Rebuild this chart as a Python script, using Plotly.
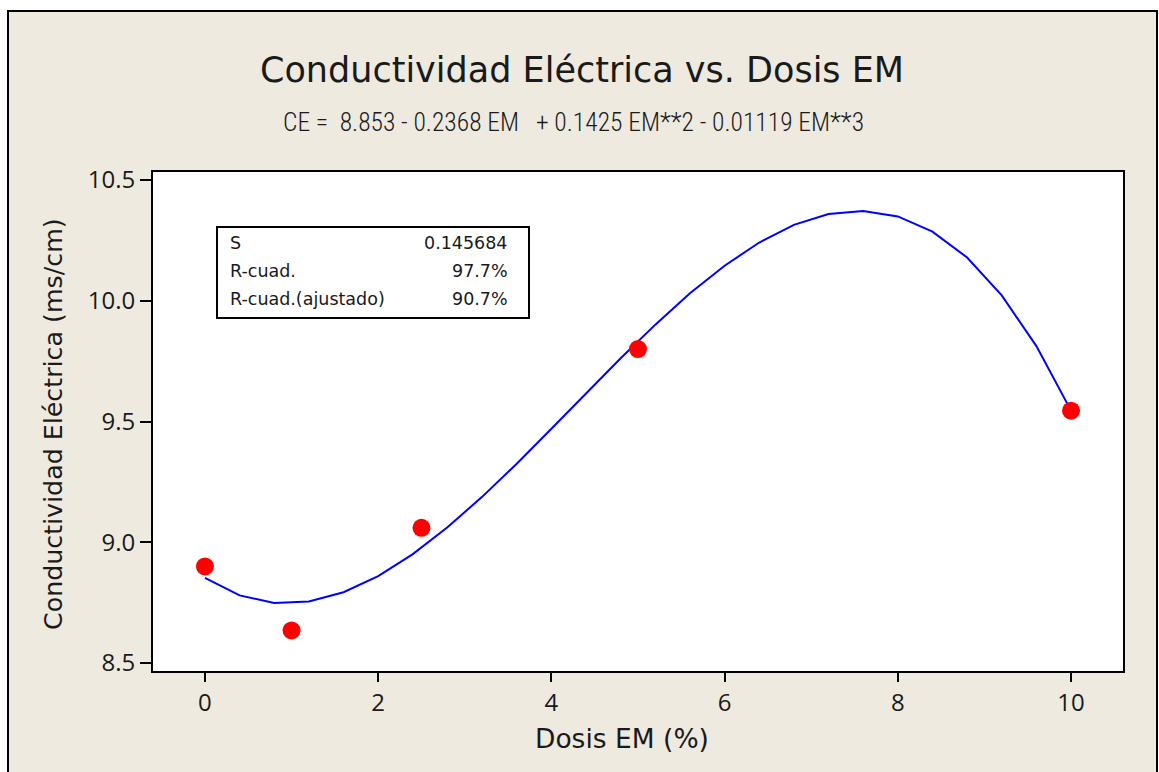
import plotly.graph_objects as go

# Observed data
dosis = [0, 1, 2.5, 5, 10]
ce_obs = [8.90, 8.635, 9.06, 9.80, 9.545]

# Fitted line (vertices every 0.4)
fit_x = [0, 0.4, 0.8, 1.2, 1.6, 2.0, 2.4, 2.8, 3.2, 3.6, 4.0, 4.4, 4.8, 5.2,
         5.6, 6.0, 6.4, 6.8, 7.2, 7.6, 8.0, 8.4, 8.8, 9.2, 9.6, 10.0]
fit_y = [8.853, 8.780, 8.749, 8.755, 8.793, 8.860, 8.951, 9.062, 9.188, 9.325,
         9.470, 9.617, 9.762, 9.901, 10.031, 10.145, 10.241, 10.314, 10.359,
         10.372, 10.349, 10.286, 10.179, 10.022, 9.812, 9.545]

x_ticks = [0, 2, 4, 6, 8, 10]
y_ticks = [8.5, 9.0, 9.5, 10.0, 10.5]
y_ticktext = ["8.5", "9.0", "9.5", "10.0", "10.5"]

stats_labels = ["S", "R-cuad.", "R-cuad.(ajustado)"]
stats_values = ["0.145684", "97.7%", "90.7%"]

title = "Conductividad Eléctrica vs. Dosis EM"
eq_left = "CE =  8.853 - 0.2368 EM"
eq_right = "+ 0.1425 EM**2 - 0.01119 EM**3"
x_title = "Dosis EM (%)"
y_title = "Conductividad Eléctrica (ms/cm)"

W, H = 1159, 772
L, R, T, B = 153, 1123, 172, 671
PW, PH = R - L, B - T


def px(x):
    return (x - L) / PW


def py(y):
    return (B - y) / PH


BEIGE = "#EEEAE0"
TEXT = "#1a1a1a"
WIDE = "DejaVu Sans"
TICKF = "Open Sans"
NARROW = "Roboto Condensed, Liberation Sans Narrow, Arial Narrow, Liberation Sans"

fig = go.Figure()
fig.add_trace(go.Scatter(x=fit_x, y=fit_y, mode="lines",
                         line=dict(color="#0000FF", width=2), hoverinfo="skip"))
fig.add_trace(go.Scatter(x=dosis, y=ce_obs, mode="markers",
                         marker=dict(color="#FF0000", size=18, line=dict(width=0))))

shapes = [
    # white margins outside the beige frame
    dict(type="rect", xref="paper", yref="paper", x0=px(-5), x1=px(W + 5), y0=py(10.5), y1=py(-5),
         fillcolor="white", line=dict(width=0), layer="below"),
    dict(type="rect", xref="paper", yref="paper", x0=px(-5), x1=px(7), y0=py(H + 5), y1=py(-5),
         fillcolor="white", line=dict(width=0), layer="below"),
    dict(type="rect", xref="paper", yref="paper", x0=px(1158), x1=px(W + 5), y0=py(H + 5), y1=py(-5),
         fillcolor="white", line=dict(width=0), layer="below"),
    # frame lines
    dict(type="line", xref="paper", yref="paper", x0=px(8), x1=px(8), y0=py(11), y1=py(H + 5),
         line=dict(color="black", width=2)),
    dict(type="line", xref="paper", yref="paper", x0=px(7), x1=px(1158), y0=py(11), y1=py(11),
         line=dict(color="black", width=2)),
    dict(type="line", xref="paper", yref="paper", x0=px(1157), x1=px(1157), y0=py(11), y1=py(H + 5),
         line=dict(color="black", width=2)),
    # stats box
    dict(type="rect", xref="paper", yref="paper", x0=px(217), x1=px(529), y0=py(227), y1=py(318),
         line=dict(color="black", width=2), fillcolor="rgba(0,0,0,0)"),
]

annotations = [
    dict(text=title, x=px(582), y=py(70), xref="paper", yref="paper", showarrow=False,
         font=dict(family=WIDE, size=35, color=TEXT), xanchor="center", yanchor="middle"),
    dict(text=eq_left, x=px(281), y=py(122), xref="paper", yref="paper", showarrow=False,
         font=dict(family=NARROW, size=25.5, color=TEXT, weight=300), xanchor="left", yanchor="middle"),
    dict(text=eq_right, x=px(866), y=py(122), xref="paper", yref="paper", showarrow=False,
         font=dict(family=NARROW, size=25.5, color=TEXT, weight=300), xanchor="right", yanchor="middle"),
    dict(text=x_title, x=px(622), y=py(738), xref="paper", yref="paper", showarrow=False,
         font=dict(family=WIDE, size=26.5, color=TEXT), xanchor="center", yanchor="middle"),
    dict(text=y_title, x=px(53), y=py(424), xref="paper", yref="paper",
         showarrow=False, textangle=-90,
         font=dict(family=WIDE, size=25.3, color=TEXT), xanchor="center", yanchor="middle"),
]
row_y = [243, 271, 299]
for lab, val, ry in zip(stats_labels, stats_values, row_y):
    annotations.append(dict(text=lab, x=px(228), y=py(ry), xref="paper", yref="paper", showarrow=False,
                            font=dict(family=WIDE, size=17.5, color=TEXT),
                            xanchor="left", yanchor="middle"))
    annotations.append(dict(text=val, x=px(510), y=py(ry), xref="paper", yref="paper", showarrow=False,
                            font=dict(family=WIDE, size=17.5, color=TEXT),
                            xanchor="right", yanchor="middle"))

fig.update_layout(
    width=W, height=H,
    margin=dict(l=L, r=W - R, t=T, b=H - B, pad=0),
    paper_bgcolor=BEIGE, plot_bgcolor="white",
    showlegend=False,
    shapes=shapes, annotations=annotations,
    font=dict(family=TICKF, size=24, color=TEXT),
)
fig.update_xaxes(range=[-0.6, 10.6], tickvals=x_ticks, ticks="outside", ticklen=9, tickwidth=2,
                 tickcolor="black", showline=True, linecolor="black", linewidth=2, mirror=True,
                 showgrid=False, zeroline=False, tickfont=dict(family=TICKF, size=24))
fig.update_yaxes(range=[8.467, 10.533], tickvals=y_ticks, ticktext=y_ticktext, ticks="outside",
                 ticklen=11, tickwidth=2, tickcolor="black", showline=True, linecolor="black",
                 linewidth=2, mirror=True, showgrid=False, zeroline=False,
                 tickfont=dict(family=TICKF, size=24))

fig.write_html("out.html")
